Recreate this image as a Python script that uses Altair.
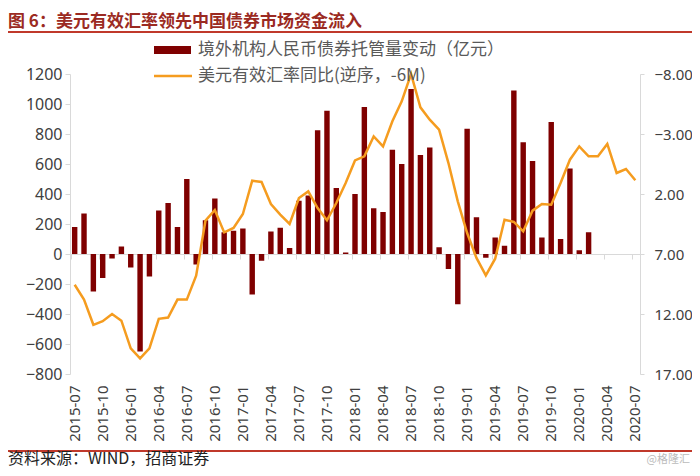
import altair as alt
import pandas as pd

# ---------------- data ----------------
months = [f"{y}-{m:02d}" for y in range(2015, 2021) for m in range(1, 13)][6:6 + 61]

bond_change = [180, 270, -250, -160, -30, 50, -90, -650, -150, 290,
               340, 180, 500, -70, 225, 370, 145, 155, 170, -270,
               -45, 150, 175, 40, 355, 390, 825, 955, 440, 10,
               400, 980, 305, 280, 695, 600, 1100, 660, 710, 45,
               -100, -335, 835, 245, -25, 110, 55, 1090, 745, 620,
               110, 880, 100, 570, 25, 145, None, None, None, None, None]

usd_yoy = [9.56, 10.8, 12.9, 12.6, 12.0, 12.56, 14.86, 15.7, 14.86, 12.4,
           12.3, 10.8, 10.8, 8.8, 4.22, 3.33, 5.2, 4.83, 3.67, 0.89,
           1.0, 2.83, 3.72, 4.5, 2.33, 1.78, 3.17, 4.19, 2.75, 1.08,
           -0.8, -1.14, -2.8, -1.97, -4.06, -5.72, -8.0, -5.22, -4.19, -3.36,
           -0.58, 2.61, 5.25, 7.33, 8.78, 7.39, 4.14, 4.33, 5.11, 3.39,
           2.83, 2.89, 1.08, -0.86, -1.97, -1.14, -1.14, -2.17, 0.25, -0.08, 0.86]

left_ticks = list(range(-800, 1201, 200))
right_ticks = [-8, -3, 2, 7, 12, 17]
x_label_months = months[::3]

title_text = "图 6：美元有效汇率领先中国债券市场资金流入"
legend_bar = "境外机构人民币债券托管量变动（亿元）"
legend_line = "美元有效汇率同比(逆序，-6M)"
source_text = "资料来源：WIND，招商证券"
watermark = "@格隆汇"

df = pd.DataFrame({"month": months, "bond": bond_change, "usd": usd_yoy})

# ---------------- style ----------------
CJK = "Noto Sans CJK SC"
NUM = "Noto Sans"
BAR = "#7F0000"
LINE = "#F59C1F"
RED = "#C0392B"
AXIS = "#D9D9D9"
LABEL = "#404040"

W, H = 570, 300

x_enc = alt.X(
    "month:N",
    sort=months,
    scale=alt.Scale(domain=months, paddingInner=0.42, paddingOuter=0.21),
    axis=alt.Axis(
        values=x_label_months, labelAngle=270, offset=-120, bandPosition=0,
        tickSize=5, labelPadding=126, domainColor=AXIS, tickColor=AXIS,
        labelFontSize=15, labelFont=NUM, labelColor=LABEL, title=None,
        grid=False, labelOverlap=False,
    ),
)

bars = alt.Chart(df).mark_bar(color=BAR).encode(
    x=x_enc,
    y=alt.Y(
        "bond:Q",
        scale=alt.Scale(domain=[-800, 1200], nice=False, zero=False),
        axis=alt.Axis(values=left_ticks, format="d", orient="left", tickSize=5,
                      labelPadding=3, domainColor=AXIS, tickColor=AXIS,
                      labelFontSize=16, labelFont=NUM, labelColor=LABEL,
                      title=None, grid=False),
    ),
)

line = alt.Chart(df).mark_line(color=LINE, strokeWidth=2.5).encode(
    x=alt.X("month:N", sort=months),
    y=alt.Y(
        "usd:Q",
        scale=alt.Scale(domain=[-8, 17], reverse=True, nice=False, zero=False),
        axis=alt.Axis(values=right_ticks, format=".2f", orient="right", tickSize=4,
                      labelPadding=10, domainColor=AXIS, tickColor=AXIS,
                      labelFontSize=15, labelFont=NUM, labelColor=LABEL,
                      title=None, grid=False),
    ),
)

one = pd.DataFrame({"k": [0]})


def txt(s, x, y, size, color, weight="normal", align="left", font=CJK):
    return alt.Chart(one).mark_text(
        align=align, baseline="middle", fontSize=size, color=color,
        fontWeight=weight, font=font,
    ).encode(x=alt.value(x), y=alt.value(y), text=alt.value(s))


def hrule(x1, x2, y, color, width):
    return alt.Chart(one).mark_rule(color=color, strokeWidth=width).encode(
        x=alt.value(x1), x2=alt.value(x2), y=alt.value(y))


decor = [
    txt(title_text, -62, -52, 17, "#9B2A22", weight="bold"),
    hrule(-62, 622, -42, RED, 2),
    alt.Chart(one).mark_rect(color=BAR).encode(
        x=alt.value(84), x2=alt.value(121), y=alt.value(-28), y2=alt.value(-20)),
    txt(legend_bar, 128, -24, 17, "#595959"),
    hrule(84, 122, 2, LINE, 2.5),
    txt(legend_line, 128, 2, 17, "#595959"),
    hrule(-62, 622, 377, RED, 2),
    txt(source_text, -62, 385, 16, "#222222"),
    txt(watermark, 620, 386, 11, "#BBBBBB", align="right"),
]

chart = alt.layer(bars, line, *decor).resolve_scale(y="independent").properties(
    width=W, height=H,
    autosize=alt.AutoSizeParams(type="none"),
    padding={"left": 62, "top": 66, "right": 52, "bottom": 94},
    background="white",
).configure_view(stroke=None)

chart.save("out.html", embed_options={"renderer": "svg", "actions": False})
